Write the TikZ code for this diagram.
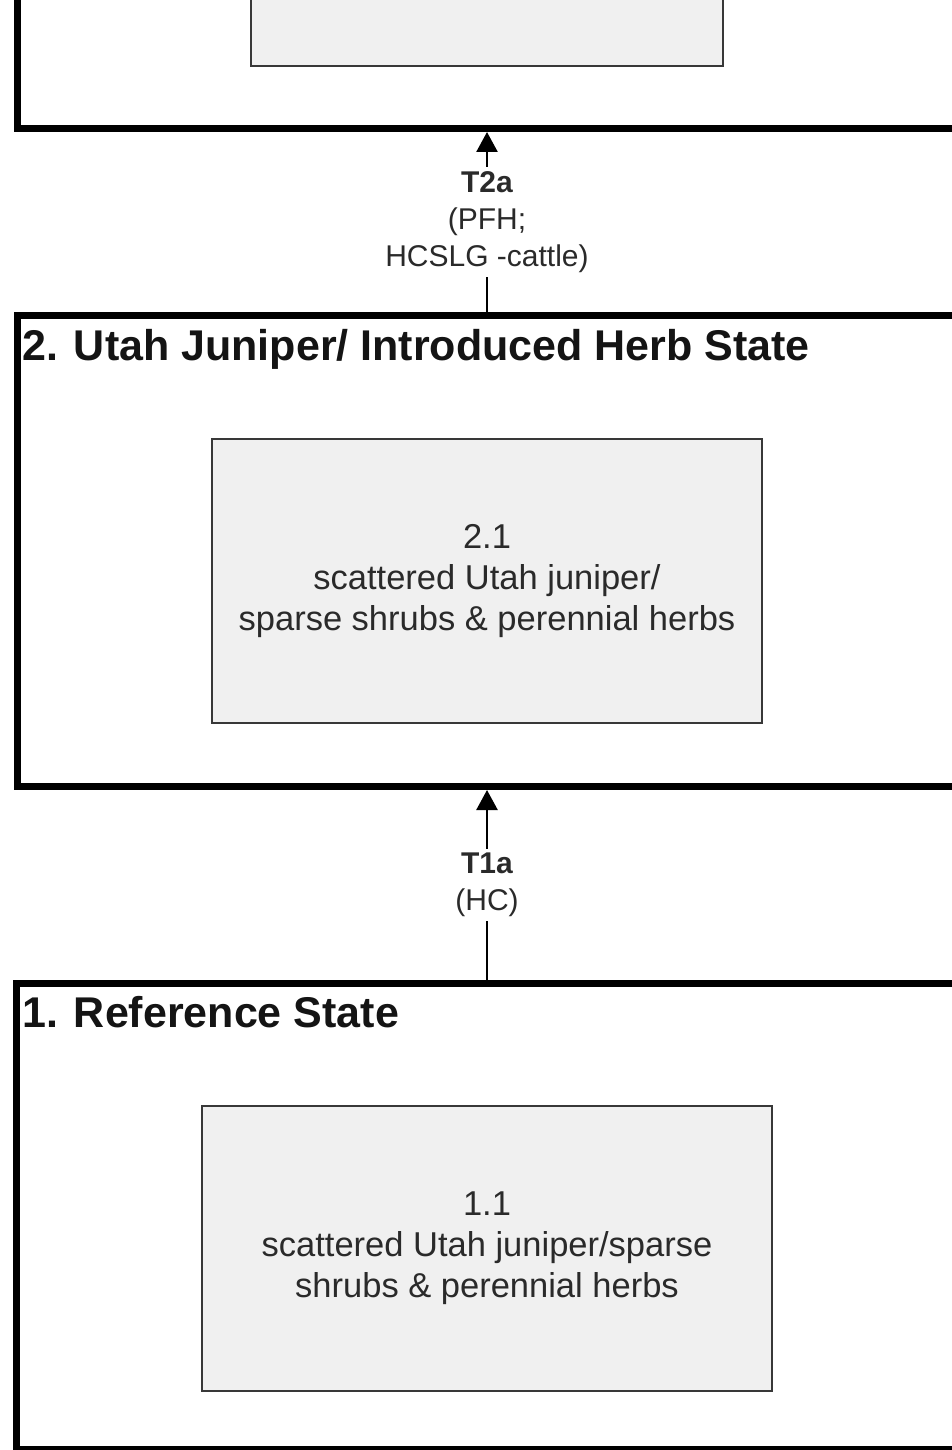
\documentclass[tikz,border=0pt]{standalone}
\usepackage{fontspec}
\setmainfont{Liberation Sans}
\usetikzlibrary{arrows.meta}
\definecolor{boxfill}{HTML}{F0F0F0}
\definecolor{boxline}{HTML}{383838}
\definecolor{txt}{HTML}{2A2A2A}
\tikzset{
  frame/.style={draw=black, line width=7pt, fill=white, anchor=north west, inner sep=0pt},
  phase/.style={draw=boxline, line width=2.5pt, fill=boxfill, align=center, inner sep=0pt,
    text=txt, font=\fontsize{34.5}{41}\selectfont},
  title/.style={anchor=base west, inner sep=0pt, text=black!92, font=\bfseries\fontsize{43}{50}\selectfont},
  arr/.style={draw=black, line width=2.5pt, -{Triangle[length=20pt,width=21pt]}},
  lab/.style={fill=white, align=center, text=txt, inner xsep=3pt, inner ysep=4pt,
    font=\fontsize{30}{37}\selectfont}
}
\begin{document}
\begin{tikzpicture}[x=1pt,y=-1pt]
\useasboundingbox (0,0) rectangle (952,1450);
\fill[white] (0,0) rectangle (952,1450);
\clip (0,0) rectangle (952,1450);
% frames
\node[frame, minimum width=1000pt, minimum height=225pt] (s3) at (14,-100) {};
\node[frame, minimum width=1000pt, minimum height=471pt] (s2) at (14,312) {};
\node[frame, minimum width=1000pt, minimum height=466pt] (s1) at (13,980) {};
% titles
\node[title] (t2) at (22,360) {2. Utah Juniper/ Introduced Herb State};
\node[title] (t1) at (22,1027) {1. Reference State};
% inner boxes
\node[phase, minimum width=472pt, minimum height=166pt] (b3) at (487,-17) {};
\node[phase, minimum width=550pt, minimum height=284pt] (b21) at (487,581)
  {2.1\\scattered Utah juniper/\\sparse shrubs \& perennial herbs};
\node[phase, minimum width=570pt, minimum height=285pt] (b11) at (487,1248.5)
  {1.1\\scattered Utah juniper/sparse\\shrubs \& perennial herbs};
% transitions
\draw[arr] (b21 |- s2.north) -- (b21 |- s3.south)
  node[midway, lab] (l2) {\textbf{T2a}\\(PFH;\\HCSLG -cattle)};
\draw[arr] (b11 |- s1.north) -- (b11 |- s2.south)
  node[midway, lab] (l1) {\textbf{T1a}\\(HC)};
\end{tikzpicture}
\end{document}
